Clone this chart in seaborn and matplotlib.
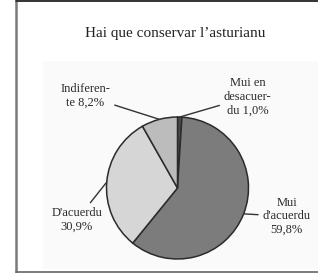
import numpy as np
import matplotlib
matplotlib.use("Agg")
import matplotlib.pyplot as plt
from matplotlib.lines import Line2D
import seaborn as sns

# data, clockwise from 12 o'clock
categories = ["Mui en\ndesacuer-\ndu", "Mui\nd'acuerdu", "D'acuerdu", "Indiferen-\nte"]
shares = [1.0, 59.8, 30.9, 8.2]
share_labels = ["1,0%", "59,8%", "30,9%", "8,2%"]
title = "Hai que conservar l\u2019asturianu"

sns.set_style("white")
plt.rcParams["font.family"] = ["Liberation Serif", "DejaVu Serif"]

colors = ["#4a4a4a", "#7c7c7c", "#d6d6d6", "#bcbcbc"]

fig = plt.figure(figsize=(3.18, 2.73), dpi=100)

# outer frame
for xs, ys, c, lw in [([15.5, 15.5], [1, 271.5], "#7a7a7a", 1.8),
                      ([15.5, 318], [1, 1], "#333333", 1.4),
                      ([15.5, 318], [271.5, 271.5], "#666666", 1.2)]:
    fig.add_artist(Line2D([x / 318 for x in xs], [1 - y / 273 for y in ys],
                          color=c, lw=lw, transform=fig.transFigure))

fig.text(175 / 318, 1 - 33 / 273, title, ha="center", va="center",
         fontsize=11, color="#222222")

# plot area (pixels: x 43..318, y 61..269), pie center at (177.5, 188), r = 71 px
ax = fig.add_axes([43 / 318, 1 - 269 / 273, 275 / 318, 208 / 273])
ax.set_facecolor("#fafafa")

wedges, _ = ax.pie(shares, colors=colors, startangle=90, counterclock=False,
                   radius=1, frame=True,
                   wedgeprops=dict(edgecolor="#2b2b2b", linewidth=1.1))
ax.set_xlim(-(177.5 - 43) / 71, (318 - 177.5) / 71)
ax.set_ylim(-(269 - 188) / 71, (188 - 61) / 71)
ax.set_aspect("auto")
ax.set_xticks([])
ax.set_yticks([])
for s in ax.spines.values():
    s.set_visible(False)

seps = [" ", "\n", "\n", " "]
label_pos = [(0.99, 1.28), (1.54, -0.40), (-1.42, -0.45), (-1.30, 1.30)]
for w, cat, pct, sep, pos in zip(wedges, categories, share_labels, seps, label_pos):
    ang = np.deg2rad((w.theta1 + w.theta2) / 2)
    xy = (np.cos(ang), np.sin(ang))
    ax.annotate(cat + sep + pct, xy=xy, xytext=pos, ha="center", va="center",
                fontsize=9, color="#2a2a2a", linespacing=1.2,
                arrowprops=dict(arrowstyle="-", color="#333333", lw=1.0,
                                shrinkA=1, shrinkB=0))

fig.savefig("out.png", dpi=100)
